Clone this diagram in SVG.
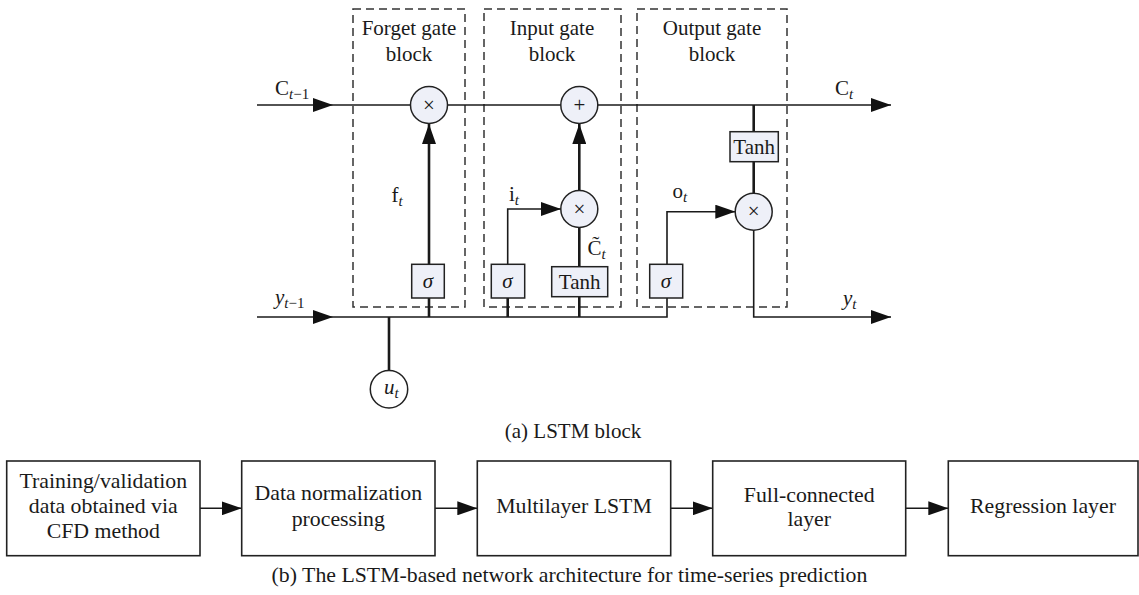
<svg xmlns="http://www.w3.org/2000/svg" width="1139" height="595" viewBox="0 0 1139 595">
<style>
text{font-family:"Liberation Serif","Times New Roman",serif;fill:#1a1a1a;font-size:21px}
.c{text-anchor:middle}
.sub{font-size:15px}
.it{font-style:italic}
.b{font-size:21.8px}
.ln{stroke:#1a1a1a;stroke-width:1.6;fill:none}
.thk{stroke:#1a1a1a;stroke-width:2.6;fill:none}
.dash{stroke:#333;stroke-width:1.5;fill:none;stroke-dasharray:8,5}
.op{fill:#eef0f8;stroke:#222;stroke-width:1.5}
.box{fill:#fff;stroke:#222;stroke-width:1.6}
</style>
<defs>
<marker id="ah" markerUnits="userSpaceOnUse" markerWidth="20" markerHeight="14" refX="20" refY="7" orient="auto">
<path d="M0,0 L20,7 L0,14 z" fill="#111"/>
</marker>
</defs>

<g id="gate-blocks">
<rect x="353" y="9" width="112" height="298" class="dash"/>
<rect x="484" y="9" width="137" height="298" class="dash"/>
<rect x="637" y="9" width="150" height="298" class="dash"/>
<text x="409" y="35" class="c">Forget gate</text>
<text x="409" y="61" class="c">block</text>
<text x="552" y="35" class="c">Input gate</text>
<text x="552" y="61" class="c">block</text>
<text x="712" y="35" class="c">Output gate</text>
<text x="712" y="61" class="c">block</text>
</g>

<g id="connectors">
<line x1="257" y1="105" x2="333" y2="105" class="ln" marker-end="url(#ah)"/>
<line x1="333" y1="105" x2="410.5" y2="105" class="ln"/>
<line x1="447.5" y1="105" x2="561" y2="105" class="ln"/>
<line x1="598" y1="105" x2="891" y2="105" class="ln" marker-end="url(#ah)"/>
<line x1="257" y1="317" x2="333" y2="317" class="ln" marker-end="url(#ah)"/>
<polyline points="333,317 667,317 667,298" class="ln"/>
<line x1="389" y1="317" x2="389" y2="370.5" class="thk"/>
<line x1="429" y1="298" x2="429" y2="317" class="thk"/>
<line x1="429" y1="264" x2="429" y2="124" class="thk" marker-end="url(#ah)"/>
<line x1="507.7" y1="298" x2="507.7" y2="317" class="thk"/>
<polyline points="507.7,264 507.7,209 561,209" class="ln" marker-end="url(#ah)"/>
<line x1="579.3" y1="296.7" x2="579.3" y2="317" class="thk"/>
<line x1="579.3" y1="266.7" x2="579.3" y2="227.5" class="thk"/>
<line x1="579.3" y1="190.5" x2="579.3" y2="124" class="thk" marker-end="url(#ah)"/>
<polyline points="667,264 667,211.7 735.3,211.7" class="ln" marker-end="url(#ah)"/>
<line x1="753.7" y1="105" x2="753.7" y2="131.7" class="thk"/>
<line x1="753.7" y1="161.7" x2="753.7" y2="193.2" class="thk"/>
<polyline points="753.7,230.2 753.7,317 891,317" class="ln" marker-end="url(#ah)"/>
<line x1="200" y1="508.3" x2="241.7" y2="508.3" class="ln" marker-end="url(#ah)"/>
<line x1="435" y1="508.3" x2="477.3" y2="508.3" class="ln" marker-end="url(#ah)"/>
<line x1="670.7" y1="508.3" x2="712.7" y2="508.3" class="ln" marker-end="url(#ah)"/>
<line x1="905.7" y1="508.3" x2="948.3" y2="508.3" class="ln" marker-end="url(#ah)"/>
</g>

<g id="labels">
<text x="275" y="95">C<tspan class="sub it" dy="4">t</tspan><tspan class="sub">−1</tspan></text>
<text x="835" y="95">C<tspan class="sub it" dy="4">t</tspan></text>
<text x="275" y="304" class="it">y<tspan class="sub" dy="4">t</tspan><tspan class="sub" font-style="normal">−1</tspan></text>
<text x="843" y="305" class="it">y<tspan class="sub" dy="4">t</tspan></text>
<text x="391.5" y="202">f<tspan class="sub it" dy="4">t</tspan></text>
<text x="509" y="201">i<tspan class="sub it" dy="4">t</tspan></text>
<text x="672.5" y="198">o<tspan class="sub it" dy="4">t</tspan></text>
<text x="587.5" y="255">C̃<tspan class="sub it" dy="4">t</tspan></text>
</g>

<g id="forget-mult">
<circle cx="429" cy="105" r="18.5" class="op"/>
<text x="429" y="111.5" class="c" font-size="18">×</text>
</g>
<g id="forget-sigma">
<rect x="411.7" y="264.3" width="32.6" height="33.7" class="op"/>
<text x="428" y="288" class="c it">σ</text>
</g>
<g id="input-plus">
<circle cx="579.3" cy="105" r="18.5" class="op"/>
<text x="579.3" y="111.5" class="c" font-size="19">+</text>
</g>
<g id="input-mult">
<circle cx="579.3" cy="209" r="18.5" class="op"/>
<text x="579.3" y="215.5" class="c" font-size="18">×</text>
</g>
<g id="input-sigma">
<rect x="491.3" y="264.3" width="33.4" height="33.7" class="op"/>
<text x="507.5" y="288" class="c it">σ</text>
</g>
<g id="input-tanh">
<rect x="551.7" y="266.7" width="56" height="30" class="op"/>
<text x="579.7" y="289" class="c">Tanh</text>
</g>
<g id="output-sigma">
<rect x="649.7" y="264.3" width="33" height="33.7" class="op"/>
<text x="666" y="288" class="c it">σ</text>
</g>
<g id="output-tanh">
<rect x="730" y="131.7" width="48.3" height="30" class="op"/>
<text x="754.2" y="154" class="c">Tanh</text>
</g>
<g id="output-mult">
<circle cx="753.7" cy="211.7" r="18.5" class="op"/>
<text x="753.7" y="218.2" class="c" font-size="18">×</text>
</g>
<g id="u-t">
<circle cx="389" cy="389.3" r="18.7" style="fill:#fff;stroke:#222;stroke-width:1.5"/>
<text x="384" y="394" class="it">u<tspan class="sub" dy="4">t</tspan></text>
</g>
<text x="573" y="438" class="c" id="caption-a">(a) LSTM block</text>

<g id="n-training">
<rect x="6.7" y="461" width="193.3" height="94.7" class="box"/>
<text x="103.3" y="488.3" class="c b">Training/validation</text>
<text x="103.3" y="512.7" class="c b">data obtained via</text>
<text x="103.3" y="538.3" class="c b">CFD method</text>
</g>
<g id="n-normalization">
<rect x="241.7" y="461" width="193.3" height="94.7" class="box"/>
<text x="338.3" y="500" class="c b">Data normalization</text>
<text x="338.3" y="526" class="c b">processing</text>
</g>
<g id="n-lstm">
<rect x="477.3" y="461" width="193.4" height="94.7" class="box"/>
<text x="574" y="513" class="c b">Multilayer LSTM</text>
</g>
<g id="n-fc">
<rect x="712.7" y="461" width="193" height="94.7" class="box"/>
<text x="809.2" y="501.7" class="c b">Full-connected</text>
<text x="809.2" y="526" class="c b">layer</text>
</g>
<g id="n-regression">
<rect x="948.3" y="461" width="189.7" height="94.7" class="box"/>
<text x="1043" y="513" class="c b">Regression layer</text>
</g>
<text x="569.5" y="582" class="c b" id="caption-b">(b) The LSTM-based network architecture for time-series prediction</text>
</svg>
